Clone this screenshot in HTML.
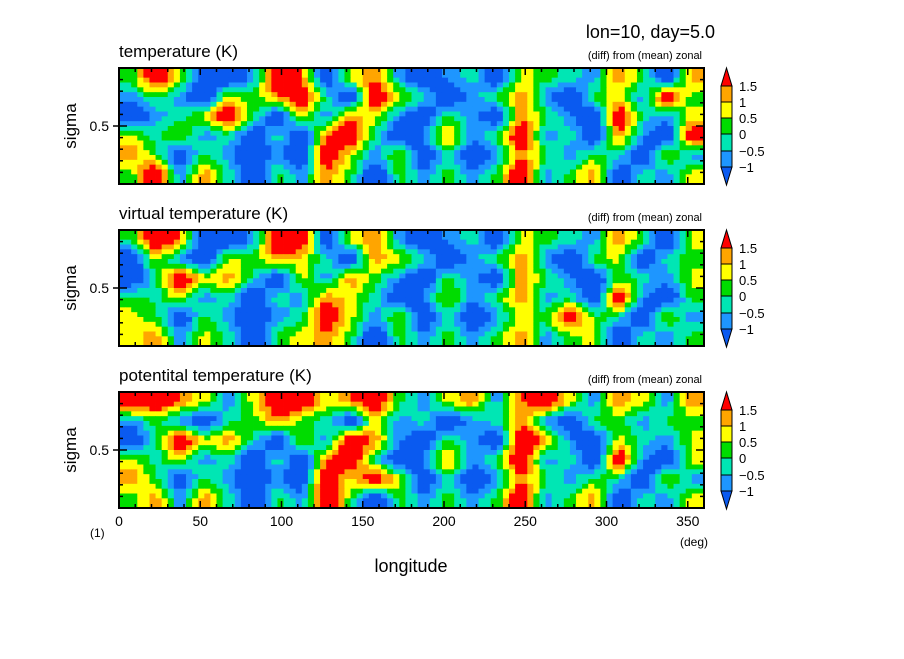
<!DOCTYPE html>
<html><head><meta charset="utf-8"><style>
body{margin:0;background:#fff;}
svg text{font-family:"Liberation Sans",sans-serif;fill:#000;}
</style></head><body>
<svg id="fig" width="904" height="654" xmlns="http://www.w3.org/2000/svg">
<rect width="904" height="654" fill="#fff"/>
<text x="715" y="38" font-size="18" text-anchor="end">lon=10, day=5.0</text>
<g id="panels"></g>
<text x="411" y="572" font-size="18" text-anchor="middle">longitude</text>
<text x="90" y="537" font-size="12">(1)</text>
<text x="680" y="546" font-size="12">(deg)</text>
</svg>
<script>
const titles=["temperature (K)","virtual temperature (K)","potentital temperature (K)"];
const xTicks=[0,50,100,150,200,250,300,350];
const levels=[-1,-0.5,0,0.5,1,1.5];
const levelLabels=["1.5","1","0.5","0","\u22120.5","\u22121"];
const colors=["#0a5af0","#1e96ff","#00e6b4","#00dc00","#ffff00","#ffa500","#ff0000"];
const temp=[
[0.2,2.5,0.7,-1.9,-1.9,-0.8,2.5,1.4,-1.9,0.7,1.4,-0.8,-1.9,-0.8,-0.2,-1.9,0.7,0.2,-0.2,-0.8,1.4,0.2,-1.9,1.4],
[-0.8,0.2,-0.8,-1.9,0.7,0.2,1.4,2.5,-0.2,-1.9,2.5,0.7,-0.2,-1.9,-0.8,0.2,1.4,-0.8,-1.9,0.2,0.7,-0.8,2.5,0.2],
[-1.9,-0.8,-0.2,0.7,2.5,0.2,-1.9,0.7,-0.8,1.4,0.7,-0.8,-1.9,0.2,-0.8,-1.9,1.4,0.2,-0.8,-1.9,2.5,-0.2,-0.8,0.7],
[0.7,-0.2,0.7,-0.8,-0.2,-1.9,-0.2,-1.9,1.4,2.5,-0.2,-1.9,-0.8,1.4,-0.8,0.2,2.5,-0.8,-0.2,-1.9,1.4,-0.8,-1.9,2.5],
[1.4,0.2,-1.9,0.2,-0.8,-1.9,-0.8,-1.9,2.5,0.7,-0.8,0.7,-1.9,-0.2,-1.9,-0.8,1.4,0.2,-0.8,0.2,-0.2,-1.9,0.7,-0.8],
[0.2,2.5,-0.8,1.4,-0.2,-1.9,0.2,-0.8,1.4,0.2,-1.9,0.2,-0.8,0.2,-0.8,0.2,2.5,-0.8,0.2,1.4,-1.9,-0.2,-0.8,0.7]];
const virt=[
[0.2,2.5,1.4,-1.9,-1.9,-0.8,2.5,2.5,-1.9,0.7,1.4,-0.8,-1.9,-0.8,-0.2,-1.9,0.7,0.2,-0.2,-0.8,1.4,0.2,-1.9,0.7],
[-1.9,0.7,-0.8,-1.9,0.7,0.2,1.4,0.7,-0.2,-1.9,1.4,0.7,-0.2,-1.9,-0.8,0.2,1.4,-0.8,-1.9,0.2,0.7,-1.9,-0.2,0.2],
[-1.9,-0.2,2.5,0.7,1.4,-0.2,-1.9,0.7,-0.8,1.4,0.2,-0.8,-1.9,0.2,-0.8,-1.9,1.4,0.2,-0.8,-1.9,0.2,-0.2,-0.8,0.7],
[0.2,-0.2,0.7,-0.8,-0.2,-1.9,-0.2,-0.8,1.4,0.7,-0.2,-1.9,-0.8,0.7,-0.8,0.2,1.4,-0.8,-0.2,-1.9,2.5,-0.8,-1.9,0.2],
[0.7,0.2,-1.9,0.2,-0.8,-1.9,-0.8,-0.2,2.5,0.7,-0.8,0.7,-1.9,-0.2,-1.9,-0.8,0.7,0.2,2.5,0.2,-0.2,-1.9,0.7,-0.8],
[0.7,1.4,-0.8,0.7,-0.2,-1.9,0.2,0.7,1.4,0.2,-1.9,0.2,-0.8,0.2,-0.8,0.2,1.4,-0.8,0.2,0.7,-1.9,-0.2,-0.8,0.2]];
const pot=[
[2.5,2.5,1.4,0.7,-0.8,0.7,2.5,2.5,0.7,1.4,2.5,0.2,-0.8,0.7,1.4,-0.8,1.4,2.5,0.7,-0.8,1.4,0.7,-0.8,1.4],
[-0.8,0.2,-0.8,-1.9,-0.2,0.2,1.4,0.2,-0.2,-1.9,0.7,-0.8,-0.2,-1.9,-0.8,-0.2,1.4,-0.8,-1.9,0.2,0.2,-0.8,0.2,0.2],
[-1.9,-0.2,2.5,0.7,1.4,-0.2,-1.9,0.7,-0.8,2.5,1.4,-0.8,-1.9,0.2,-0.8,-1.9,2.5,1.4,-0.8,-1.9,0.7,-0.2,-0.8,0.7],
[0.7,-0.2,0.7,-0.8,-0.2,-1.9,-0.2,-1.9,1.4,2.5,-0.2,-1.9,-0.8,1.4,-0.8,0.2,2.5,-0.8,-0.2,-1.9,2.5,-0.8,-1.9,0.7],
[1.4,0.2,-1.9,0.2,-0.8,-1.9,-0.8,-1.9,2.5,0.7,2.5,0.7,-1.9,-0.2,-1.9,-0.8,1.4,0.2,-0.8,0.2,-0.2,-1.9,0.7,-0.8],
[0.2,1.4,-0.8,1.4,-0.2,-1.9,0.2,-0.8,2.5,0.2,-1.9,0.2,-0.8,0.2,-0.8,0.2,2.5,-0.8,0.2,1.4,-1.9,-0.2,-0.8,0.7]];
const fields=[temp,virt,pot];
</script>
<script>
const NS="http://www.w3.org/2000/svg";
const g=document.getElementById("panels");
const X0=119,X1=704,W=X1-X0,H=116,tops=[68,230,392];
const xScale=v=>X0+v/360*W;
const SUB=4;
function colorOf(v){let i=0;while(i<levels.length&&v>levels[i])i++;return colors[i];}
function mk(tag,attrs,parent){const e=document.createElementNS(NS,tag);for(const k in attrs)e.setAttribute(k,attrs[k]);parent.appendChild(e);return e;}
function sample(data,fr,fc){
  const rows=data.length,cols=data[0].length;
  let r=Math.min(Math.max(fr,0),rows-1),c=Math.min(Math.max(fc,0),cols-1);
  const r0=Math.floor(r),c0=Math.floor(c),r1=Math.min(r0+1,rows-1),c1=Math.min(c0+1,cols-1);
  const tr=r-r0,tc=c-c0;
  return (data[r0][c0]*(1-tc)+data[r0][c1]*tc)*(1-tr)+(data[r1][c0]*(1-tc)+data[r1][c1]*tc)*tr;
}
fields.forEach((data,p)=>{
  const top=tops[p];
  const pg=mk("g",{},g);
  
  
  const rows=data.length,cols=data[0].length;
  const cw=360/cols;
  for(let sr=0;sr<rows*SUB;sr++)for(let sc=0;sc<cols*SUB;sc++){
    const fr=(sr+0.5)/SUB-0.5,fc=(sc+0.5)/SUB-0.5;
    const v=sample(data,fr,fc);
    const x=xScale(sc*cw/SUB),x2=xScale((sc+1)*cw/SUB);
    const y=top+sr*H/(rows*SUB);
    const rc=mk("rect",{x:x,y:y,width:x2-x+0.4,height:H/(rows*SUB)+0.4,fill:colorOf(v)},pg);
    
    
  }
  const fr=mk("rect",{x:X0,y:top,width:W,height:H,fill:"none",stroke:"#000","stroke-width":2},pg);
  
  
  for(let d=0;d<=360;d+=10){const x=xScale(d);const L=d%50===0?7:4;
    mk("line",{x1:x,y1:top+H,x2:x,y2:top+H-L,stroke:"#000","stroke-width":1.5},pg);
    mk("line",{x1:x,y1:top,x2:x,y2:top+L,stroke:"#000","stroke-width":1.5},pg);}
  for(let s=0;s<=10;s++){const y=top+H-(s/10)*H;const L=s===5?8:4;
    mk("line",{x1:X0,y1:y,x2:X0+L,y2:y,stroke:"#000","stroke-width":1.5},pg);
    mk("line",{x1:X1,y1:y,x2:X1-L,y2:y,stroke:"#000","stroke-width":1.5},pg);}
  mk("line",{x1:X0-6,y1:top+H/2,x2:X0,y2:top+H/2,stroke:"#000","stroke-width":1.5},pg);
  const t=mk("text",{x:119,y:top-11,"font-size":17},pg);t.textContent=titles[p];
  
  const d=mk("text",{x:702,y:top-9,"font-size":11,"text-anchor":"end"},pg);d.textContent="(diff) from (mean) zonal";
  
  const yl=mk("text",{x:109,y:top+H/2+5,"font-size":14,"text-anchor":"end"},pg);yl.textContent="0.5";
  
  const ya=mk("text",{x:76,y:top+H/2,"font-size":17,"text-anchor":"middle",transform:`rotate(-90 76 ${top+H/2})`},pg);ya.textContent="sigma";
  
  const cb=mk("g",{},pg);
  
  const cx=721,cwid=11,b=[top+18,top+34,top+50,top+66,top+83,top+99];
  mk("polygon",{points:`${cx},${b[0]} ${cx+cwid},${b[0]} ${cx+cwid/2},${top}`,fill:colors[6],stroke:"#000"},cb);
  for(let i=0;i<5;i++) mk("rect",{x:cx,y:b[i],width:cwid,height:b[i+1]-b[i],fill:colors[5-i],stroke:"#000"},cb);
  mk("polygon",{points:`${cx},${b[5]} ${cx+cwid},${b[5]} ${cx+cwid/2},${top+H+1}`,fill:colors[0],stroke:"#000"},cb);
  levelLabels.forEach((l,i)=>{const tx=mk("text",{x:739,y:b[i]+5,"font-size":13},cb);tx.textContent=l;
    });
});
xTicks.forEach(v=>{const t=mk("text",{x:xScale(v),y:526,"font-size":14,"text-anchor":"middle"},g);t.textContent=v;
  });
</script>
</body></html>
